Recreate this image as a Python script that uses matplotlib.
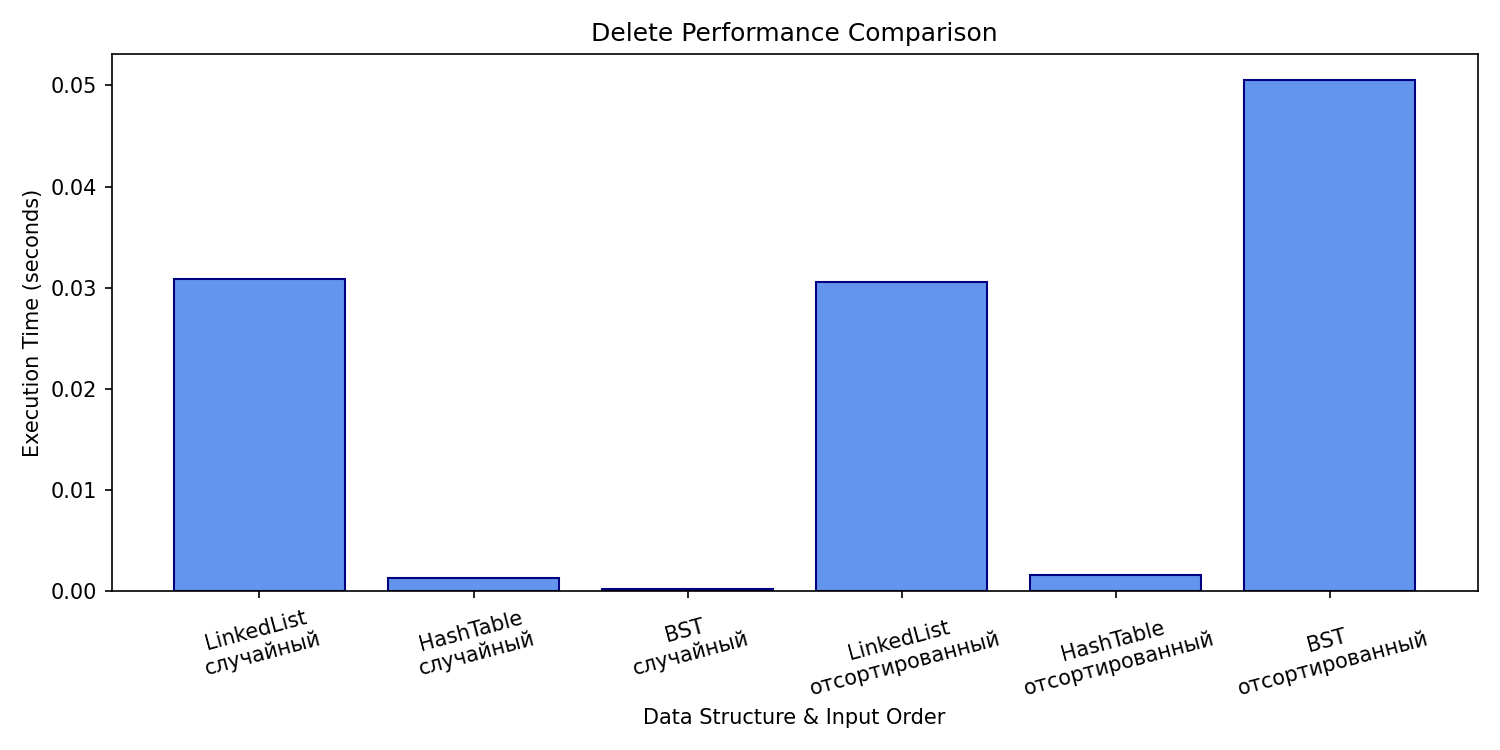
import matplotlib.pyplot as plt

structures = ["LinkedList", "HashTable", "BST", "LinkedList", "HashTable", "BST"]
orders = ["случайный", "случайный", "случайный",
          "отсортированный", "отсортированный", "отсортированный"]
times = [0.03087, 0.00134, 0.00020, 0.03057, 0.00164, 0.05058]

labels = [f"{s}\n{o}" for s, o in zip(structures, orders)]

fig, ax = plt.subplots(figsize=(10, 5), dpi=150)
ax.bar(range(len(times)), times, color="cornflowerblue", edgecolor="navy")
ax.set_xticks(range(len(times)))
ax.set_xticklabels(labels, rotation=15)
ax.set_title("Delete Performance Comparison")
ax.set_xlabel("Data Structure & Input Order")
ax.set_ylabel("Execution Time (seconds)")
plt.tight_layout()
plt.savefig("out.png")
